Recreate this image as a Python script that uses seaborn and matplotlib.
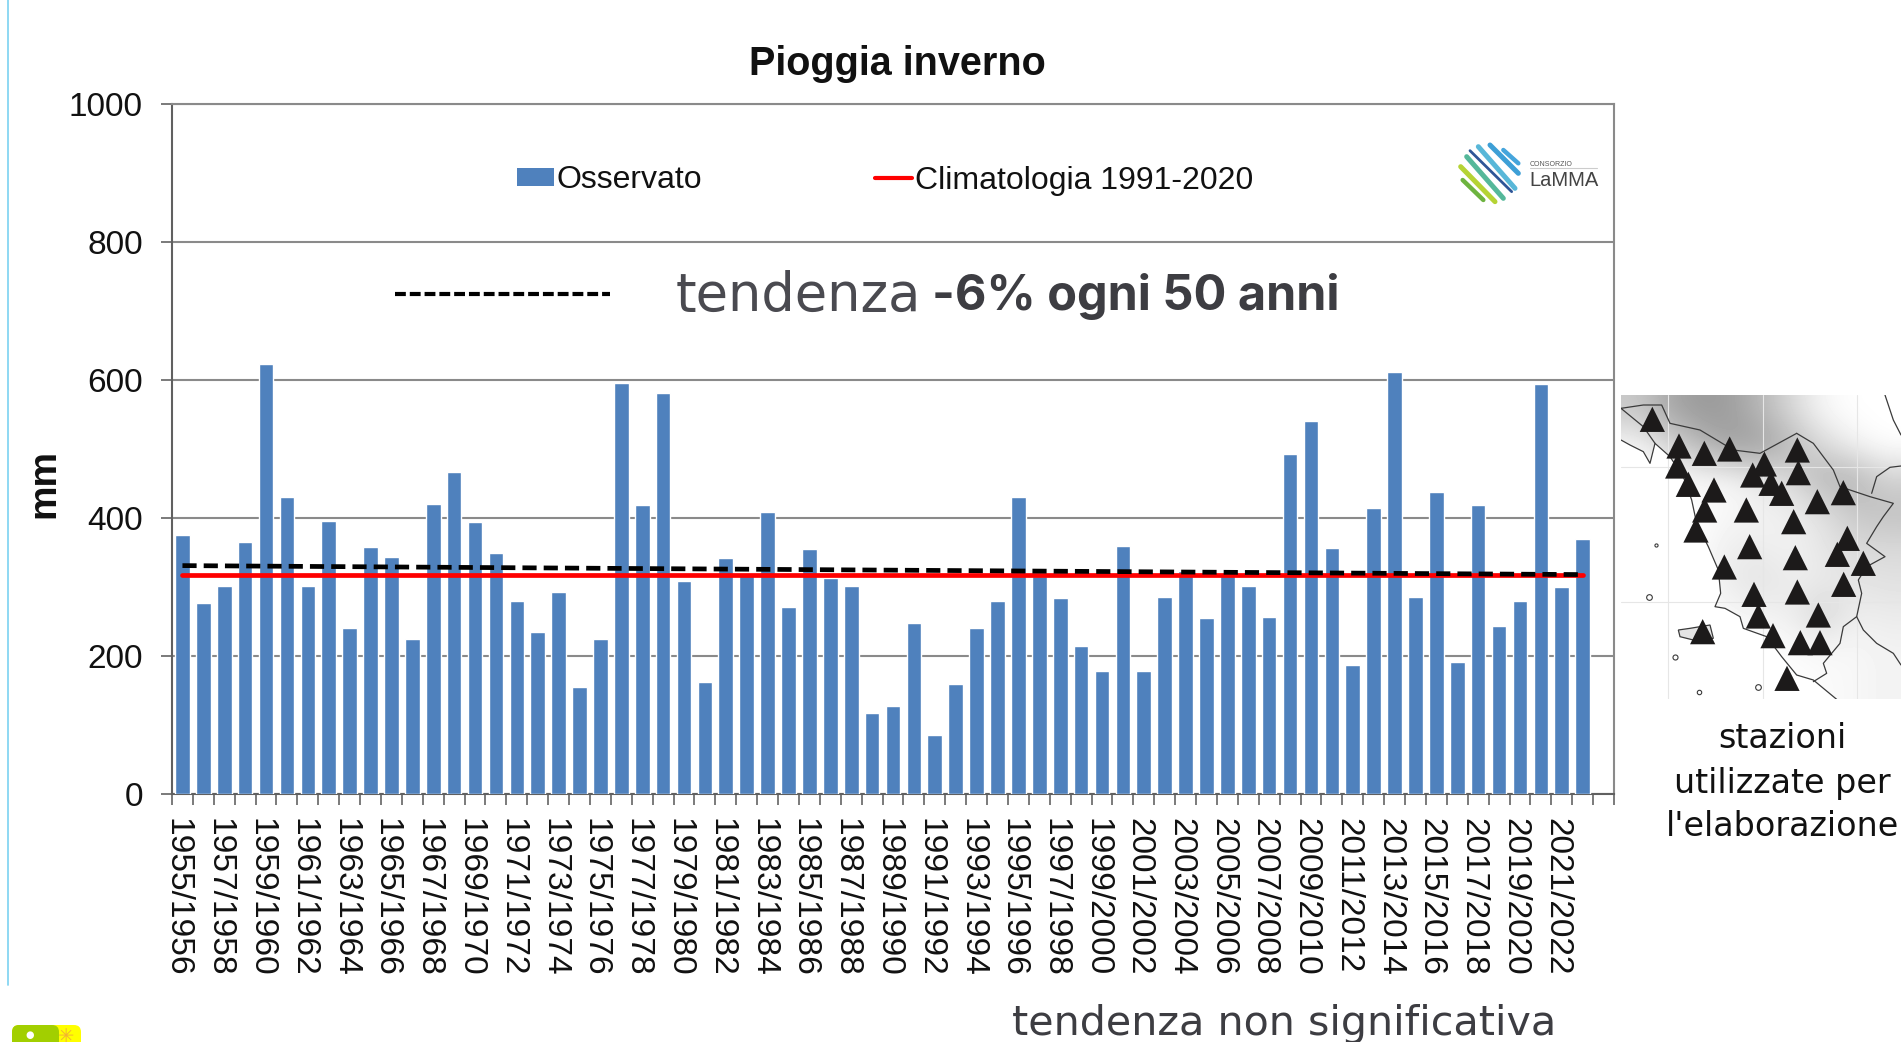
import numpy as np
import pandas as pd
import matplotlib
matplotlib.use("Agg")
import matplotlib.pyplot as plt
from matplotlib.lines import Line2D
from matplotlib.patches import Patch, FancyBboxPatch
from matplotlib.transforms import Affine2D, ScaledTranslation
import seaborn as sns

W, H = 1901, 1042

first_years = list(range(1955, 2023))
seasons = [f"{y}/{y + 1}" for y in first_years]
rain_mm = [376, 277, 302, 365, 623, 430, 302, 396, 241, 358, 343, 224, 421, 466, 394, 349, 280,
           235, 293, 155, 225, 596, 419, 581, 308, 163, 342, 320, 408, 271, 355, 313, 302, 118,
           128, 248, 85, 159, 241, 280, 430, 316, 284, 215, 178, 360, 178, 286, 323, 255, 318,
           302, 256, 493, 541, 356, 187, 415, 612, 286, 437, 192, 419, 243, 280, 594, 300, 370]
climatology_mm = 318
trend_start_mm = 331
trend_end_mm = 318
y_ticks = [0, 200, 400, 600, 800, 1000]

# station triangles and map shapes
station_x = [157, 237, 313, 389, 592, 493, 233, 458, 595, 265, 342, 513, 545, 652, 730, 314, 439, 581,
             288, 742, 449, 712, 586, 790, 373, 731, 462, 592, 475, 655, 308, 519, 601, 660, 561]
station_y = [118, 198, 220, 207, 210, 252, 258, 285, 278, 313, 330, 310, 340, 365, 338, 390, 390, 425,
             450, 475, 500, 523, 533, 550, 561, 613, 643, 636, 708, 705, 755, 767, 788, 788, 895]
relief = [[.78, .66, .60, .62, .72, .85, .97, 1.0, 1.0],
          [.97, .85, .72, .62, .62, .72, .85, .95, 1.0],
          [1.0, 1.0, .97, .97, .90, .85, .70, .70, .82],
          [1.0, 1.0, .99, .97, .95, .93, .88, .78, .75],
          [1.0, 1.0, .99, .93, .93, .95, .90, .85, .85],
          [1.0, 1.0, .98, .92, .88, .93, .92, .90, .88],
          [1.0, 1.0, 1.0, .97, .95, .93, .82, .93, .92],
          [1.0, 1.0, 1.0, 1.0, 1.0, .98, .97, .97, .95],
          [1.0, 1.0, 1.0, 1.0, 1.0, 1.0, .98, .97, .95]]
coast = [(63, 180), (90, 195), (130, 215), (150, 250), (165, 190), (210, 230), (250, 290), (275, 360),
         (290, 430), (325, 500), (355, 570), (362, 640), (345, 680), (375, 685), (420, 710), (430, 745),
         (500, 770), (545, 830), (590, 885), (640, 900), (710, 958)]
border_east = [(590, 160), (640, 190), (700, 270), (720, 320), (810, 350), (880, 370), (850, 410),
               (830, 440), (800, 490), (855, 530), (800, 560), (775, 600), (785, 640), (770, 710),
               (730, 740), (720, 790), (670, 850), (680, 880), (640, 905)]
border_north = [(63, 85), (130, 75), (185, 75), (210, 130), (300, 150), (400, 210), (480, 220), (590, 160)]
border_nw = [(63, 85), (130, 140), (165, 190)]
border_far = [(855, 45), (880, 120), (903, 165)]
border_far2 = [(903, 258), (870, 262), (830, 290), (815, 340)]
border_far3 = [(770, 710), (790, 750), (830, 790), (880, 820), (903, 855)]
elba = [(235, 750), (270, 745), (330, 735), (340, 775), (280, 780), (240, 770)]
islets = [(168, 495, 5), (147, 652, 9), (225, 832, 8), (297, 935, 7), (475, 922, 9)]

sns.set_theme(style="white")
plt.rcParams["font.family"] = ["Liberation Sans", "DejaVu Sans"]

fig = plt.figure(figsize=(W / 100, H / 100), dpi=100, facecolor="white")


def fx(px):
    return px / W


def fy(py):
    return 1 - py / H


ax = fig.add_axes([fx(172), fy(794), (1614 - 172) / W, (794 - 104) / H])
df = pd.DataFrame({"season": seasons, "mm": rain_mm})
sns.barplot(data=df, x="season", y="mm", color="#4F81BD", saturation=1, width=0.7, ax=ax, zorder=3)
sns.lineplot(x=[0, len(seasons) - 1], y=[climatology_mm, climatology_mm], color="#FF0000", lw=3.4,
             ax=ax, zorder=4, errorbar=None)
sns.lineplot(x=[0, len(seasons) - 1], y=[trend_start_mm, trend_end_mm], color="black", lw=3.4,
             linestyle=(0, (3.0, 1.5)), ax=ax, zorder=5, errorbar=None)

ax.set_xlim(-0.5, len(seasons) + 0.5)
ax.set_ylim(0, 1000)
ax.set_yticks(y_ticks)
ax.yaxis.grid(True, color="#8a8a8a", lw=1.5)
ax.set_axisbelow(True)
ax.tick_params(axis="y", length=8, width=1.3, color="#707070", labelsize=24, labelcolor="#111111",
               pad=13, left=True)
ax.set_xticks(range(0, len(seasons), 2))
ax.set_xticklabels(seasons[::2], rotation=270, ha="center", va="top", fontsize=24.1, color="#111111")
ax.tick_params(axis="x", which="major", length=0, pad=17.4)
shift = ScaledTranslation(-5 / 100, 0, fig.dpi_scale_trans)
for lab in ax.get_xticklabels():
    lab.set_transform(lab.get_transform() + shift)
ax.set_xticks(np.arange(-0.5, len(seasons) + 1), minor=True)
ax.tick_params(axis="x", which="minor", length=8, width=1.3, color="#707070", bottom=True)
ax.set_xlabel("")
ax.set_ylabel("")
for name, sp in ax.spines.items():
    sp.set_visible(True)
    sp.set_color("#8a8a8a")
    sp.set_linewidth(1.5)
ax.spines["left"].set_color("#606060")
ax.spines["bottom"].set_color("#606060")

handles = [Patch(facecolor="#4F81BD", edgecolor="none", label="Osservato"),
           Line2D([0], [0], color="#FF0000", lw=3, label="Climatologia 1991-2020")]
leg = ax.legend(handles=handles, ncol=2, frameon=False, fontsize=23, loc="center",
                bbox_to_anchor=(fx(885), fy(180.5)), bbox_transform=fig.transFigure,
                handlelength=1.15, handleheight=0.47, handletextpad=0.1, columnspacing=5.4,
                borderpad=0, borderaxespad=0, labelcolor="#111111")

fig.text(fx(897), fy(64), "Pioggia inverno", fontsize=28.5, fontweight="bold", ha="center", va="center",
         color="#111111")
fig.text(fx(44), fy(483), "mm", fontsize=28, fontweight="bold", rotation=90, ha="center", va="center",
         color="#111111")

# dashed trend key and the overlaid annotations
fig.add_artist(Line2D([fx(395), fx(610)], [fy(294), fy(294)], color="black", lw=3.0,
                      linestyle=(0, (2.6, 0.95))))
wide = ["DejaVu Sans"]
bold = ["Inter", "Open Sans", "DejaVu Sans"]
fig.text(fx(676), fy(296), "tendenza", family=wide, fontsize=38, color="#4a4a50", ha="left", va="center")
fig.text(fx(932), fy(296), "-6% ogni 50 anni", family=bold, fontsize=35, fontweight="bold",
         color="#3d3d42", ha="left", va="center")
fig.text(fx(1284), fy(1024), "tendenza non significativa", family=wide, fontsize=29.7, color="#3d3d42",
         ha="center", va="center")
for txt, py in zip(["stazioni", "utilizzate per", "l'elaborazione"], [739, 783, 827]):
    fig.text(fx(1782), fy(py), txt, family=wide, fontsize=24, color="#111111", ha="center", va="center")

# LaMMA logo
stripes = [((190, 60), (235, 100), "#45A5DC", 3.2), ((150, 45), (235, 130), "#3D9FD6", 3.6),
           ((115, 50), (225, 175), "#58B7D8", 3.6), ((90, 62), (215, 185), "#2F5597", 2.0),
           ((80, 80), (190, 205), "#55B89A", 3.6), ((62, 110), (165, 215), "#B5D334", 3.6),
           ((68, 150), (130, 210), "#6DB33F", 3.2)]
for a, b, c, lw in stripes:
    fig.add_artist(Line2D([fx(1440 + a[0] / 3), fx(1440 + b[0] / 3)], [fy(130 + a[1] / 3), fy(130 + b[1] / 3)],
                          color=c, lw=lw, solid_capstyle="round"))
fig.text(fx(1530), fy(164), "CONSORZIO", fontsize=5, color="#555555", ha="left", va="center")
fig.add_artist(Line2D([fx(1530), fx(1597)], [fy(168), fy(168)], color="#cccccc", lw=0.8))
fig.text(fx(1529), fy(180), "LaMMA", fontsize=14.5, color="#444444", ha="left", va="center")

# map inset
mx0, mx1, my0, my1 = 63, 903, 45, 958
mp = fig.add_axes([fx(1600 + mx0 / 3), fy(380 + my1 / 3), (mx1 - mx0) / 3 / W, (my1 - my0) / 3 / H], zorder=2)
mp.imshow(relief, cmap="gray", vmin=0, vmax=1, interpolation="bicubic", aspect="auto",
          extent=(mx0, mx1, my1, my0))
sea = coast + [(mx0, my1)]
mp.fill([p[0] for p in sea], [p[1] for p in sea], color="white", zorder=1)
for px_ in [205, 490, 770]:
    mp.axvline(px_, color="#e6e6e6", lw=0.8, zorder=1.5)
for py_ in [262, 665]:
    mp.axhline(py_, color="#e6e6e6", lw=0.8, zorder=1.5)
for line in [coast, border_east, border_north, border_nw, border_far, border_far2, border_far3]:
    mp.plot([p[0] for p in line], [p[1] for p in line], color="#3a3a3a", lw=0.9, zorder=2)
mp.fill([p[0] for p in elba], [p[1] for p in elba], facecolor="#e4e4e4", edgecolor="#3a3a3a", lw=0.9, zorder=2)
for ix, iy, r in islets:
    mp.plot(ix, iy, "o", ms=r / 2.2, mfc="white", mec="#3a3a3a", mew=0.8, zorder=2)
sns.scatterplot(x=station_x, y=station_y, marker="^", s=330, color="#1c1a1a", edgecolor="none", ax=mp, zorder=3)
mp.set_xlim(mx0, mx1)
mp.set_ylim(my1, my0)
mp.axis("off")

# page furniture: cyan rule and clipped badge at the bottom left
page = Affine2D().translate(0, H)
fig.add_artist(Line2D([fx(8), fx(8)], [fy(0), fy(985)], color="#86D6F2", lw=1.3))
fig.add_artist(FancyBboxPatch((12, -1065), 69, 40, boxstyle="round,pad=0,rounding_size=7",
                              transform=page, facecolor="#FFFF00", edgecolor="none"))
fig.add_artist(FancyBboxPatch((12, -1065), 47, 40, boxstyle="round,pad=0,rounding_size=7",
                              transform=page, facecolor="#A2CF00", edgecolor="none"))
fig.add_artist(FancyBboxPatch((40, -1065), 7, 40, boxstyle="square,pad=0",
                              transform=page, facecolor="#A2CF00", edgecolor="none"))
fig.text(fx(30), fy(1035), "\u25cf", family=["DejaVu Sans"], fontsize=7, color="white", ha="center", va="center")
fig.text(fx(66), fy(1036), "\u2733", family=["DejaVu Sans"], fontsize=14, color="#F2B134", ha="center", va="center")

fig.savefig("out.png", dpi=100, facecolor="white")
